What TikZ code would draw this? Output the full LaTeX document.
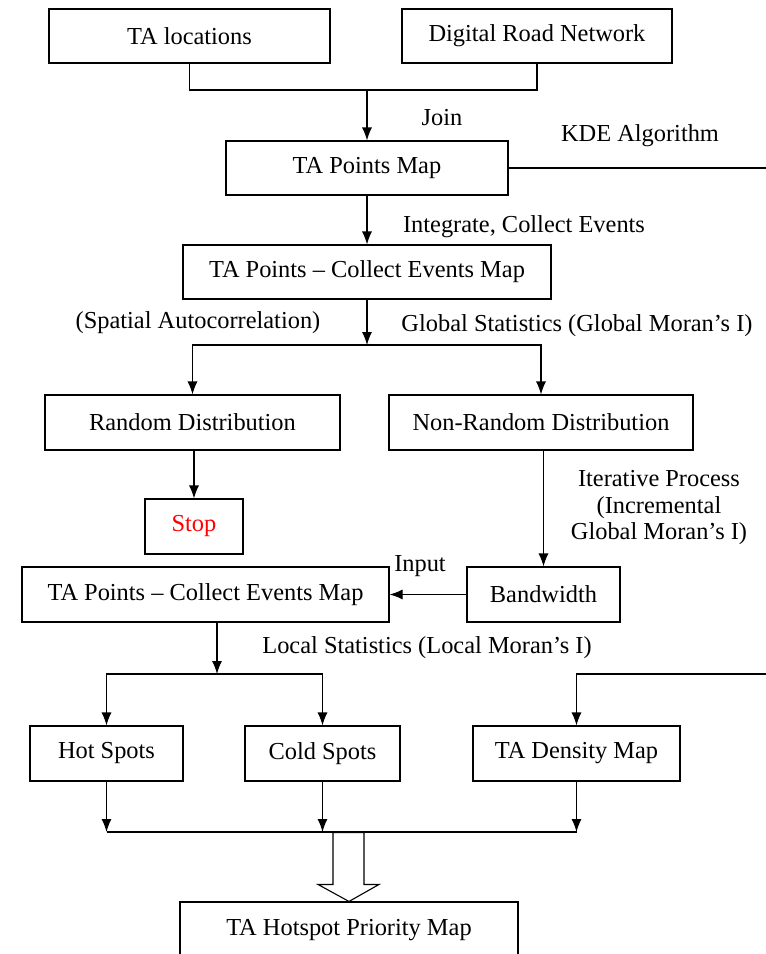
\documentclass[tikz,border=0pt]{standalone}
\usepackage{fontspec}
\setmainfont{Liberation Serif}
\usetikzlibrary{arrows.meta,positioning}

\begin{document}
\begin{tikzpicture}[x=1pt, y=-1pt, >={Latex[length=13pt,width=10pt]},
    every node/.style={font=\fontsize{24.4}{26}\selectfont},
    box/.style={draw, line width=1.1pt, minimum height=54pt, inner sep=0pt},
    link/.style={line width=1.1pt}]
    \clip (0,0) rectangle (766,954);

    \node at (189.5,36) [box, minimum width=281pt] (loc){TA locations};
    \node at (537,36) [box, minimum width=270pt] (drn){Digital Road Network};
    \node at (367,168) [box, minimum width=282pt] (tpm){TA Points Map};
    \node at (367,272) [box, minimum width=368pt] (tce){TA Points -- Collect Events Map};
    \node at (192.5,422.5) [box, minimum width=295pt, minimum height=55pt] (rnd){Random Distribution};
    \node at (541,422.5) [box, minimum width=304pt, minimum height=55pt] (nrnd){Non-Random Distribution};
    \node at (194,526.5) [box, minimum width=98pt, minimum height=55pt, text=red] (stop){Stop};
    \node at (543.5,594.5) [box, minimum width=153pt, minimum height=55pt] (bw){Bandwidth};
    \node at (205.5,594.5) [box, minimum width=367pt, minimum height=55pt] (tce2){TA Points -- Collect Events Map};
    \node at (106.5,753.5) [box, minimum width=153pt, minimum height=55pt] (hot){Hot Spots};
    \node at (322.5,753.5) [box, minimum width=155pt, minimum height=55pt] (cold){Cold Spots};
    \node at (576.5,753.5) [box, minimum width=207pt, minimum height=55pt] (dens){TA Density Map};
    \node at (349,930) [box, minimum width=338pt, minimum height=56pt] (hpm){TA Hotspot Priority Map};

    %% Labels
    \node at (442,118) (join){Join};
    \node at (640,136) (kdel){KDE Algorithm};
    \node at (524,227) (intg){Integrate, Collect Events};
    \node at (198,323) (spat){(Spatial Autocorrelation)};
    \node at (577,326) (glob){Global Statistics (Global Moran’s I)};
    \node at (659,508) [align=center, font=\fontsize{24.4}{26.5}\selectfont] (iter){Iterative Process\\(Incremental\\Global Moran’s I)};
    \node at (420,566) (inp){Input};
    \node at (427,648) (locs){Local Statistics (Local Moran’s I)};

    %% Arrows
    \coordinate (jn) at (tpm.north |- 0,90);
    \coordinate (sp1) at (tce.south |- 0,345);
    \coordinate (sp2) at (217,674);
    \coordinate (kde) at (790,674);
    \coordinate (mrg) at (348,832);
    \draw [link] (loc.south) |- (jn);
    \draw [link] (drn.south) |- (jn);
    \draw [link, ->] (jn) -- (tpm.north);
    \draw [link, ->] (tpm.east) -| (kde) -| (dens.north);
    \draw [link, ->] (tpm) -- (tce);
    \draw [link, ->] (tce) -- (sp1);
    \draw [link, ->] (sp1) -| (rnd.north);
    \draw [link, ->] (sp1) -| (nrnd.north);
    \draw [link, ->] (stop.north |- rnd.south) -- (stop.north);
    \draw [link, ->] (bw.north |- nrnd.south) -- (bw.north);
    \draw [link, ->] (bw) -- (tce2);
    \draw [link, ->] (tce2.south -| sp2) -- (sp2);
    \draw [link, ->] (sp2) -| (hot.north);
    \draw [link, ->] (sp2) -| (cold.north);
    \draw [link, ->] (hot.south) -- (hot.south |- mrg);
    \draw [link, ->] (cold.south) -- (cold.south |- mrg);
    \draw [link, ->] (dens.south) -- (dens.south |- mrg);
    \draw [link] (hot.south |- mrg) -- (dens.south |- mrg);
    \draw [link, fill=white] (hpm.north) --++ (-31,-17) --++ (15,0) --++ (0,-52) --++ (31,0) --++ (0,52) --++ (15,0) -- cycle;
\end{tikzpicture}
\end{document}
